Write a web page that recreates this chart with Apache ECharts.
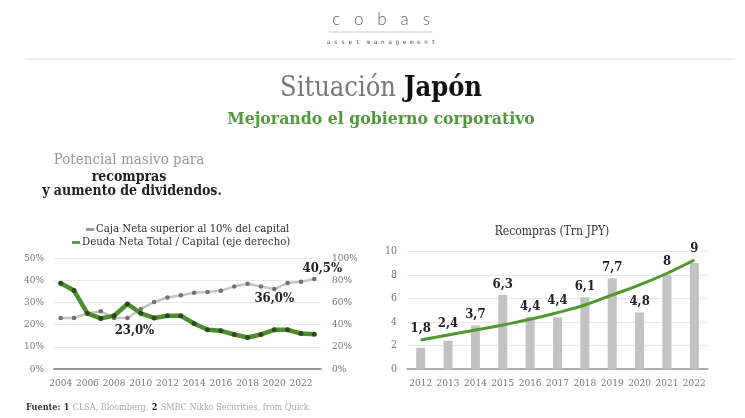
<!DOCTYPE html>
<html><head><meta charset="utf-8">
<script src="https://cdn.jsdelivr.net/npm/echarts@6/dist/echarts.min.js"></script>
<style>html,body{margin:0;padding:0;background:#fff}#c{width:745px;height:418px}</style>
</head><body><div id="c"></div>
<script>
// ---- data ----
const years = ['2004','2005','2006','2007','2008','2009','2010','2011','2012','2013','2014','2015','2016','2017','2018','2019','2020','2021','2022','2023'];
const cajaNeta = [23,23,25,26,23,23,27,30.2,32.2,33.2,34.3,34.7,35.2,37.2,38.4,37.2,36,38.7,39.3,40.5];
const deudaNeta = [77.3,70.7,50.2,45.6,48,58.6,50.2,46,48,48,41,35.3,34.4,31.1,28.4,31.1,35.3,35.3,32,31.4];
const cajaLabels = {'2009':'23,0%','2020':'36,0%','2023':'40,5%'};
const buybackYears = ['2012','2013','2014','2015','2016','2017','2018','2019','2020','2021','2022'];
const buybacks = [1.8,2.4,3.7,6.3,4.4,4.4,6.1,7.7,4.8,8,9];
const trend = [2.46,2.89,3.31,3.74,4.22,4.79,5.44,6.29,7.14,8.13,9.26];
const leftAxisTicks = {min:0,max:50,interval:10};
const rightAxisTicks = {min:0,max:100,interval:20};
const buybackTicks = {min:0,max:10,interval:2};
const nameCaja = 'Caja Neta superior al 10% del capital';
const nameDeuda = 'Deuda Neta Total / Capital (eje derecho)';

const SERIF = "'DejaVu Serif Condensed', 'DejaVu Serif', serif";
const fmt = v => String(v).replace('.', ',');

const cajaData = cajaNeta.map((v,i) => {
  const lab = cajaLabels[years[i]];
  if (!lab) return v;
  const pos = years[i] === '2023' ? {position:'top', offset:[8,3]} :
              years[i] === '2009' ? {position:'bottom', offset:[7,-1]} :
              {position:'bottom', offset:[0,-4]};
  return {value:v, label:Object.assign({show:true, formatter:lab, fontFamily:SERIF, fontWeight:'bold', fontSize:13, color:'#222'}, pos)};
});

const labelOnTrend = buybacks.map((v,i) => trend[i] > v && trend[i] - v < 1);
const barData = buybacks.map((v,i) => ({value:v, label:{show:!labelOnTrend[i]}}));
const trendData = trend.map((v,i) => ({value:v, label:{show:labelOnTrend[i], formatter:fmt(buybacks[i])}}));

const chart = echarts.init(document.getElementById('c'));
const axisLabel = {fontFamily:SERIF, fontSize:10, color:'#777'};
chart.setOption({
  animation:false,
  backgroundColor:'#fff',
  graphic:[
    {type:'text', x:381, y:20, style:{text:'c   o   b   a   s', font:'300 17px Lato, "Noto Sans", sans-serif', fill:'#666', align:'center', verticalAlign:'middle'}},
    {type:'line', shape:{x1:329,y1:32,x2:432,y2:32}, style:{stroke:'#c8c8c8', lineWidth:1}},
    {type:'text', x:381, y:42, style:{text:'a s s e t  m a n a g e m e n t', font:'6px "DejaVu Sans Mono", monospace', fill:'#555', align:'center', verticalAlign:'middle'}},
    {type:'line', shape:{x1:25,y1:59,x2:735,y2:59}, style:{stroke:'#ececec', lineWidth:2}},
    {type:'text', x:381, y:89, style:{text:'{a|Situación}{b|Japón}', align:'center', verticalAlign:'middle',
      rich:{a:{fontFamily:SERIF, fontSize:27, fill:'#777', fontWeight:'normal'}, b:{fontFamily:SERIF, fontSize:27, fill:'#111', fontWeight:'bold', padding:[0,0,0,8]}}}},
    {type:'text', x:381, y:119, style:{text:'Mejorando el gobierno corporativo', font:'bold 17.5px '+SERIF, fill:'#4f9a3a', align:'center', verticalAlign:'middle'}},
    {type:'text', x:129, y:160, style:{text:'Potencial masivo para', font:'15px '+SERIF, fill:'#999', align:'center', verticalAlign:'middle'}},
    {type:'text', x:129, y:177, style:{text:'recompras', font:'bold 14px '+SERIF, fill:'#222', align:'center', verticalAlign:'middle'}},
    {type:'text', x:132, y:191, style:{text:'y aumento de dividendos.', font:'bold 14px '+SERIF, fill:'#222', align:'center', verticalAlign:'middle'}},
    {type:'text', x:552, y:232, style:{text:'Recompras (Trn JPY)', font:'12px '+SERIF, fill:'#333', align:'center', verticalAlign:'middle'}},
    {type:'text', x:26, y:408, style:{text:'{b|Fuente:} {b|1} {l|CLSA, Bloomberg.} {b|2} {l|SMBC Nikko Securities, from Quick.}', verticalAlign:'middle',
      rich:{b:{fontFamily:SERIF, fontSize:9, fontWeight:'bold', fill:'#333'}, l:{fontFamily:SERIF, fontSize:9, fill:'#aaa'}}}}
  ],
  legend:[
    {data:[{name:nameCaja, itemStyle:{color:'#9a9a9a'}}], left:81, top:219, icon:'rect', itemWidth:8, itemHeight:3, itemGap:4,
     textStyle:{fontFamily:SERIF, fontSize:11.3, color:'#333', padding:[0,0,0,-3]}, selectedMode:false},
    {data:[{name:nameDeuda, itemStyle:{color:'#5aa03a'}}], left:67, top:232, icon:'rect', itemWidth:8, itemHeight:3, itemGap:4,
     textStyle:{fontFamily:SERIF, fontSize:11.3, color:'#333', padding:[0,0,0,-3]}, selectedMode:false}
  ],
  grid:[
    {left:54, width:267, top:258, height:111},
    {left:407, width:301, top:251.3, height:117.7}
  ],
  xAxis:[
    {type:'category', gridIndex:0, data:years, axisTick:{show:false},
     axisLine:{lineStyle:{color:'#999', width:2}}, axisLabel:Object.assign({interval:1, margin:9}, axisLabel)},
    {type:'category', gridIndex:1, data:buybackYears, axisTick:{show:false},
     axisLine:{lineStyle:{color:'#999', width:1.5}}, axisLabel:Object.assign({interval:0, margin:9}, axisLabel)}
  ],
  yAxis:[
    Object.assign({type:'value', gridIndex:0, axisLabel:Object.assign({formatter:'{value}%', margin:10}, axisLabel),
     splitLine:{lineStyle:{color:'#e8e8e8'}}, axisLine:{show:false}, axisTick:{show:false}}, leftAxisTicks),
    Object.assign({type:'value', gridIndex:0, position:'right', axisLabel:Object.assign({formatter:'{value}%', margin:11}, axisLabel),
     splitLine:{show:false}, axisLine:{show:false}, axisTick:{show:false}}, rightAxisTicks),
    Object.assign({type:'value', gridIndex:1, axisLabel:Object.assign({margin:10}, axisLabel, {fontSize:10.5}),
     splitLine:{lineStyle:{color:'#e8e8e8'}}, axisLine:{show:false}, axisTick:{show:false}}, buybackTicks)
  ],
  series:[
    {name:nameCaja, type:'line', xAxisIndex:0, yAxisIndex:0, data:cajaData, symbol:'circle', symbolSize:4.5,
     lineStyle:{color:'#c4c4c4', width:2.5}, itemStyle:{color:'#707070'}, z:3},
    {name:nameDeuda, type:'line', xAxisIndex:0, yAxisIndex:1, data:deudaNeta, symbol:'circle', symbolSize:5,
     lineStyle:{color:'#4c8f2c', width:4.5}, itemStyle:{color:'#2c4a22'}, z:4},
    {name:'Recompras', type:'bar', xAxisIndex:1, yAxisIndex:2, data:barData, barWidth:9,
     itemStyle:{color:'#c2c2c2'},
     label:{position:'top', distance:4, formatter:p => fmt(p.value), fontFamily:SERIF, fontWeight:'bold', fontSize:13, color:'#222'}},
    {name:'Tendencia', type:'line', xAxisIndex:1, yAxisIndex:2, data:trendData, smooth:true, showSymbol:true, symbol:'circle', symbolSize:0.5,
     lineStyle:{color:'#4e9a2e', width:3}, itemStyle:{color:'#4e9a2e'}, z:5,
     label:{position:'top', distance:5, fontFamily:SERIF, fontWeight:'bold', fontSize:13, color:'#222'}}
  ]
});
</script></body></html>
